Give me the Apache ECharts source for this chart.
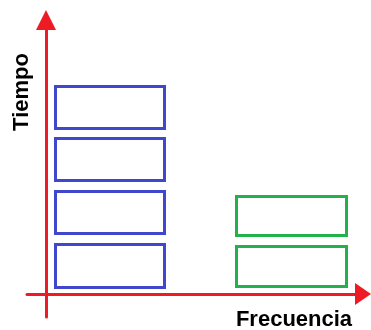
<!DOCTYPE html>
<html>
<head>
<meta charset="utf-8">
<script src="https://cdn.jsdelivr.net/npm/echarts@6/dist/echarts.min.js"></script>
<style>
  html, body { margin: 0; padding: 0; background: #fff; }
  #main { width: 371px; height: 330px; }
</style>
</head>
<body>
<div id="main"></div>
<script>
// frequency band of each group (arbitrary units)
var blueFreq = [0.8, 12];
var greenFreq = [18.9, 30.2];
// time slots: [start, end]
var blueTime = [[0.5, 5.1], [5.9, 10.4], [11.2, 15.7], [16.4, 20.9]];
var greenTime = [[0.6, 4.9], [5.7, 9.9]];

var xLabel = 'Frecuencia';
var yLabel = 'Tiempo';

function toItems(freq, times) {
    return times.map(function (t) {
        return [freq[0], freq[1], t[0], t[1]];
    });
}

function renderBlock(params, api) {
    var p0 = api.coord([api.value(0), api.value(3)]);
    var p1 = api.coord([api.value(1), api.value(2)]);
    return {
        type: 'rect',
        shape: { x: p0[0] + 1.5, y: p0[1] + 1.5, width: p1[0] - p0[0] - 3, height: p1[1] - p0[1] - 3 },
        style: { fill: 'transparent', stroke: api.visual('color'), lineWidth: 3 }
    };
}

var chart = echarts.init(document.getElementById('main'));

var axisCommon = {
    type: 'value',
    axisLine: { show: true, onZero: true, lineStyle: { color: '#ed1c24', width: 3 } },
    axisTick: { show: false },
    axisLabel: { show: false },
    splitLine: { show: false }
};

chart.setOption({
    animation: false,
    grid: { left: 27, right: 8, top: 20, bottom: 13 },
    xAxis: Object.assign({}, axisCommon, {
        min: -1.9, max: 31.7,
        axisLine: Object.assign({}, axisCommon.axisLine, { symbol: ['none', 'triangle'], symbolSize: [22, 16] })
    }),
    yAxis: Object.assign({}, axisCommon, {
        min: -2.3, max: 27.4,
        axisLine: Object.assign({}, axisCommon.axisLine, { symbol: ['none', 'triangle'], symbolSize: [20, 20] })
    }),
    graphic: [
        {
            type: 'text', x: 22, y: 92, rotation: Math.PI / 2,
            style: { text: yLabel, fill: '#000', align: 'center', verticalAlign: 'middle',
                     font: 'bold 22px "Liberation Sans"' }
        },
        {
            type: 'text', x: 294, y: 320,
            style: { text: xLabel, fill: '#000', align: 'center', verticalAlign: 'middle',
                     font: 'bold 22px "Liberation Sans"' }
        }
    ],
    series: [
        {
            type: 'custom', name: 'blue', color: '#3f48cc',
            renderItem: renderBlock, encode: { x: [0, 1], y: [2, 3] },
            data: toItems(blueFreq, blueTime)
        },
        {
            type: 'custom', name: 'green', color: '#22b14c',
            renderItem: renderBlock, encode: { x: [0, 1], y: [2, 3] },
            data: toItems(greenFreq, greenTime)
        }
    ]
});
</script>
</body>
</html>
